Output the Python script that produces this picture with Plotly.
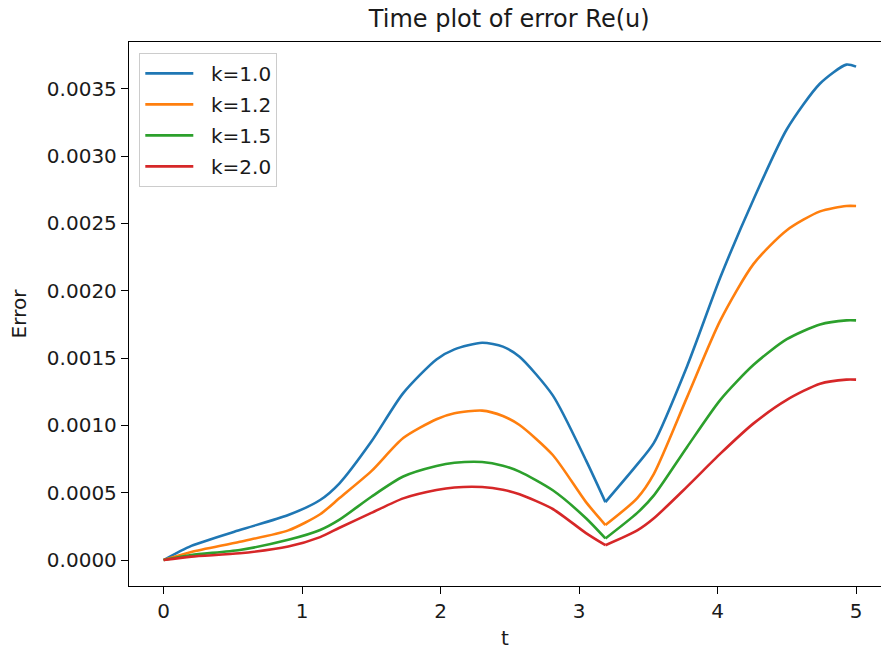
import plotly.graph_objects as go

t = [0, 0.2, 0.55, 0.9, 1.13, 1.27, 1.5, 1.73, 1.97, 2.1, 2.3, 2.45, 2.57, 2.81, 3.05, 3.19,
     3.42, 3.54, 3.78, 4.02, 4.26, 4.5, 4.74, 4.93, 5.0]

err_k10 = [0, 0.000105, 0.000223, 0.000334, 0.000446, 0.00057, 0.00088, 0.00124, 0.00149,
           0.001565, 0.001614, 0.001585, 0.00151, 0.001223, 0.00074, 0.00043,
           0.00071, 0.00087, 0.00144, 0.0021, 0.00268, 0.0032, 0.00354, 0.00368, 0.003665]
err_k12 = [0, 0.00006, 0.000136, 0.00022, 0.00034, 0.00046, 0.00066, 0.000906, 0.001046,
           0.00109, 0.00111, 0.00107, 0.001003, 0.00078, 0.00043, 0.00026,
           0.00046, 0.00064, 0.00121, 0.00178, 0.0022, 0.00245, 0.00259, 0.00263, 0.00263]
err_k15 = [0, 0.000037, 0.000075, 0.00015, 0.000223, 0.0003, 0.00047, 0.00062, 0.000698,
           0.000722, 0.000728, 0.000701, 0.000657, 0.000518, 0.00031, 0.00016,
           0.00035, 0.00048, 0.00084, 0.00119, 0.00145, 0.00164, 0.00175, 0.00178, 0.00178]
err_k20 = [0, 0.000025, 0.00005, 0.0001, 0.00017, 0.00024, 0.00035, 0.000458, 0.00052,
           0.000539, 0.000542, 0.000522, 0.000488, 0.000379, 0.0002, 0.00011,
           0.00022, 0.00031, 0.000545, 0.00079, 0.001015, 0.00119, 0.00131, 0.00134, 0.00134]

series_names = ["k=1.0", "k=1.2", "k=1.5", "k=2.0"]
series_values = [err_k10, err_k12, err_k15, err_k20]
colors = ["#1f77b4", "#ff7f0e", "#2ca02c", "#d62728"]

y_ticks = [0.0, 0.0005, 0.0010, 0.0015, 0.0020, 0.0025, 0.0030, 0.0035]
x_ticks = [0, 1, 2, 3, 4, 5]

KINK = t.index(3.19)  # sharp minimum: split the curve there so smoothing keeps the corner
FONT = "DejaVu Sans"
PAD = "\u00a0\u00a0"

fig = go.Figure()
for i, (name, vals, c) in enumerate(zip(series_names, series_values, colors)):
    fig.add_trace(go.Scatter(x=t[:KINK + 1], y=vals[:KINK + 1], mode="lines", name=PAD + name,
                             legendgroup=f"g{i}", line_shape="spline",
                             line=dict(color=c, width=2.6, smoothing=0.7)))
    fig.add_trace(go.Scatter(x=t[KINK:], y=vals[KINK:], mode="lines", name=PAD + name,
                             legendgroup=f"g{i}", showlegend=False, line_shape="spline",
                             line=dict(color=c, width=2.6, smoothing=0.7)))

fig.update_layout(
    width=881, height=653,
    margin=dict(l=129, r=0, t=42, b=67),
    paper_bgcolor="white", plot_bgcolor="white",
    font=dict(family=FONT, size=20, color="#1a1a1a"),
    title=dict(text="Time plot of error Re(u)", x=0.578, xanchor="center",
               y=0.972, yanchor="middle", font=dict(size=24, family=FONT)),
    showlegend=True,
    legend=dict(x=0.0137, y=0.98, xanchor="left", yanchor="top",
                bgcolor="rgba(255,255,255,0.8)", bordercolor="#cccccc", borderwidth=1,
                font=dict(size=20, family=FONT), tracegroupgap=2, itemwidth=48),
    xaxis=dict(range=[-0.25, 5.18], tickvals=x_ticks, ticktext=[str(v) for v in x_ticks],
               showgrid=False, zeroline=False, showline=True, linecolor="black",
               linewidth=1.3, mirror=True, ticks="outside", ticklen=7, tickwidth=1.3,
               tickcolor="black",
               title=dict(text="t", standoff=8, font=dict(size=20))),
    yaxis=dict(range=[-0.000193, 0.003848], tickvals=y_ticks,
               ticktext=[f"{v:.4f}" for v in y_ticks],
               showgrid=False, zeroline=False, showline=True, linecolor="black",
               linewidth=1.3, ticks="outside", ticklen=7, tickwidth=1.3,
               tickcolor="black",
               title=dict(text="Error", standoff=14, font=dict(size=20))),
)

fig.write_html("out.html")
